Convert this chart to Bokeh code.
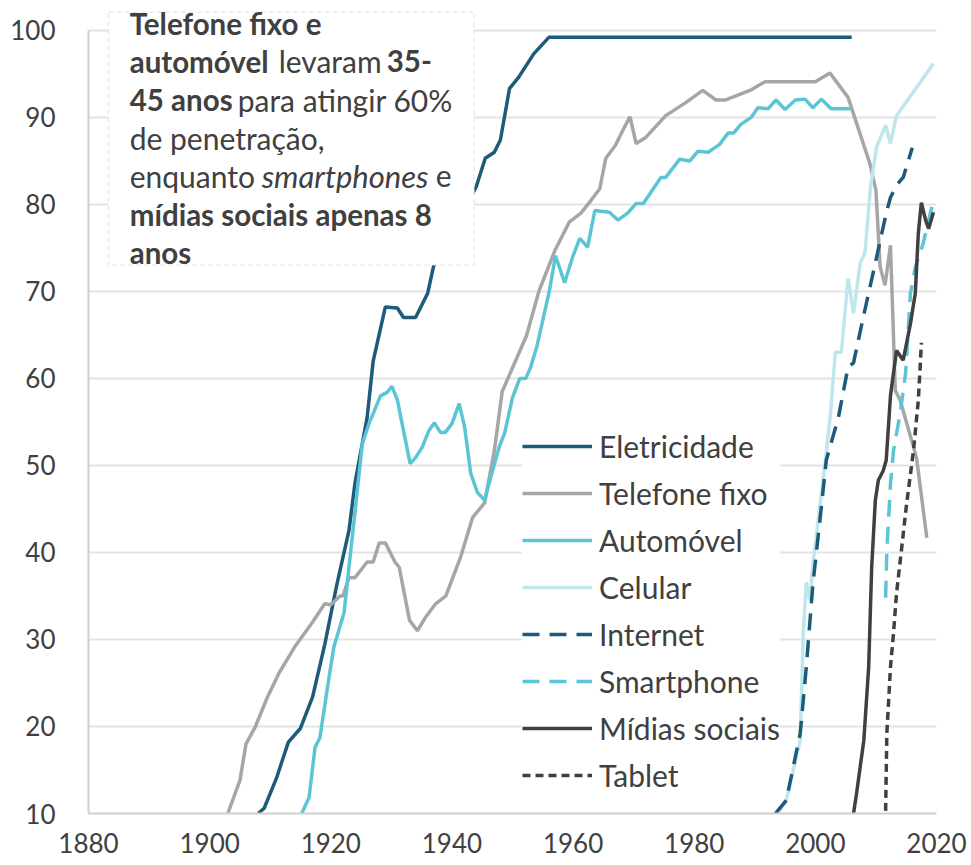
from bokeh.plotting import figure
from bokeh.models import (Range1d, FixedTicker, Legend, LegendItem, BoxAnnotation, Label)
from bokeh.embed import file_html
from bokeh.resources import INLINE

# ---------------- data ----------------
x_ticks = [1880, 1900, 1920, 1940, 1960, 1980, 2000, 2020]
y_ticks = [10, 20, 30, 40, 50, 60, 70, 80, 90, 100]

elec_years = [1908, 1909, 1911, 1913, 1915, 1917, 1919, 1921, 1923, 1924, 1926, 1927, 1929,
              1931, 1932, 1934, 1936, 1937, 1940, 1944, 1945.5, 1947, 1948, 1949.5, 1951,
              1953.5, 1956, 2006]
elec_vals = [10, 10.6, 14, 18.2, 19.8, 23.4, 29.4, 36.3, 42.5, 48, 55.5, 62, 68.2,
             68.1, 67, 67, 69.8, 73, 77, 82, 85.3, 86, 87.4, 93.3, 94.6,
             97.3, 99.2, 99.2]

tel_years = [1903, 1905, 1906, 1907.5, 1909.5, 1911.5, 1914, 1917, 1919, 1920, 1921.5, 1922,
             1923, 1924, 1926, 1927, 1928, 1929, 1930.6, 1931.3, 1933, 1934.3, 1935.6,
             1937.3, 1939, 1941.4, 1943.4, 1945.4, 1947, 1948.3, 1950.5, 1952.3, 1954.4,
             1957, 1959.4, 1961.3, 1963, 1964.4, 1965.4, 1967, 1968.2, 1969.4, 1970.4, 1972,
             1975.3, 1978.6, 1981.4, 1983.6, 1985.2, 1989.2, 1991.7, 2000, 2002.4, 2005.4,
             2009, 2010, 2010.7, 2011.5, 2012.4, 2013.2, 2014, 2016.7, 2018.4]
tel_vals = [10, 13.8, 18, 19.9, 23.3, 26.2, 29.1, 32, 34.1, 34, 35, 35,
            37.1, 37.1, 38.9, 38.9, 41.1, 41.1, 38.9, 38.3, 32.2, 31, 32.5,
            34.1, 35, 39.4, 44, 45.7, 51.7, 58.5, 62, 64.9, 70.1,
            74.7, 78, 79, 80.5, 81.8, 85.3, 86.8, 88.5, 90.1, 87, 87.7,
            90.2, 91.7, 93.1, 92, 92, 93.1, 94.1, 94.1, 95.1, 92.3,
            84.7, 81.6, 72.8, 70.7, 75.3, 58.6, 57.5, 50.9, 41.7]

auto_years = [1915.2, 1916.4, 1917.4, 1918.2, 1919.7, 1920.5, 1922.2, 1923, 1923.9, 1925.2,
              1926.3, 1927.2, 1928.2, 1929.3, 1930.1, 1931, 1933.1, 1934, 1935.1, 1936.2,
              1937.1, 1938.1, 1938.9, 1940, 1941.2, 1942.1, 1943.1, 1944.2, 1945.4, 1946.4,
              1947.8, 1948.7, 1950, 1951.2, 1952.2, 1953, 1954, 1956.1, 1957.1, 1958.6,
              1959.9, 1961.1, 1962.4, 1963.6, 1966, 1967.4, 1969, 1970.4, 1971.6, 1974.5,
              1975.3, 1977.6, 1979.3, 1980.6, 1982.3, 1984.2, 1985.6, 1986.5, 1987.7, 1989.4,
              1990.5, 1992.2, 1993.5, 1995, 1996.7, 1998.3, 1999.6, 2001, 2002.6, 2005.8]
auto_vals = [10, 11.8, 17.6, 18.7, 25.6, 29.1, 33.1, 38.3, 44, 52.5,
             54.8, 56.3, 58, 58.4, 59.1, 57.5, 50.2, 50.9, 52.1, 54,
             54.9, 53.8, 53.8, 54.8, 57.1, 54.4, 49.1, 46.9, 46, 48.6,
             52.1, 53.7, 57.8, 60, 60, 61.3, 63.6, 70.1, 74.1, 71,
             73.9, 76.1, 75.1, 79.3, 79.1, 78.2, 79, 80.1, 80.1, 83.1,
             83.1, 85.2, 85, 86.1, 86, 86.9, 88.2, 88.2, 89.2, 90,
             91.1, 91, 92, 90.9, 92, 92.1, 91.1, 92.1, 91, 91]

cel_years = [1993.8, 1995.2, 1997.5, 1998, 1998.5, 1999.1, 1999.6, 2001.8, 2002.5, 2003.3,
             2004.3, 2005.4, 2006.3, 2007.4, 2008.2, 2009.1, 2010.1, 2011.6, 2012.4, 2013.4,
             2019.5]
cel_vals = [10, 11.5, 18.4, 30.7, 36.6, 34.5, 38.7, 51.4, 56, 63,
            63, 71.5, 67.5, 73.2, 74.5, 82, 86.6, 89.1, 87, 90.2,
            96.2]

net_years = [1993.4, 1995.2, 1997.5, 1998.5, 1999.6, 2000.8, 2001.8, 2003.8, 2005.4, 2006.3,
             2007.9, 2010.1, 2011.7, 2012.4, 2013.4, 2014.5, 2016]
net_vals = [10, 11.5, 19.2, 26.8, 36.4, 44, 50.6, 55.5, 61.3, 61.8,
            67, 73.9, 79, 80.8, 82.2, 83.1, 86.5]

smart_years = [2011.6, 2011.8, 2012.4, 2012.9, 2014, 2014.9, 2015.7, 2016.5, 2017.8, 2018.7, 2019.5]
smart_vals = [34.8, 40.2, 47.9, 51.7, 56, 60.6, 69.8, 72.8, 75.5, 78.2, 80.5]

social_years = [2006.3, 2006.8, 2008, 2008.8, 2009.3, 2009.9, 2010.4, 2011.2, 2011.7, 2012.4,
                2013.4, 2014.5, 2015.7, 2016.5, 2017, 2017.5, 2018.2, 2018.7, 2019.5]
social_vals = [10, 12.3, 18.4, 26.8, 38.3, 46, 48.3, 49.4, 50.6, 58,
               63.2, 62.1, 66.3, 69.8, 76.7, 80.2, 78.2, 77.2, 79.1]

tablet_years = [2011.6, 2011.8, 2012.4, 2012.9, 2013.4, 2014.2, 2015, 2016.2, 2017, 2017.3, 2017.5]
tablet_vals = [10.3, 19.2, 26.8, 30.7, 35.3, 40.2, 45.2, 51.7, 57.5, 61.3, 64.1]

series_names = ["Eletricidade", "Telefone fixo", "Automóvel", "Celular",
                "Internet", "Smartphone", "Mídias sociais", "Tablet"]

# ---------------- styling ----------------
FONT = "Lato"
TXT = "#404040"
C_DARK = "#1c5b79"
C_GRAY = "#a6a6a6"
C_TEAL = "#5bc5d6"
C_LIGHT = "#bfe6ec"
C_BLACK = "#404040"

# y range extends a little above 100 so the note box (which sits above the
# 100 gridline) stays inside the frame and is not clipped
p = figure(frame_width=848, frame_height=804, output_backend="svg", toolbar_location=None,
           x_range=Range1d(1880, 2020), y_range=Range1d(10, 102.4),
           min_border_left=88, min_border_right=32, min_border_top=9, min_border_bottom=44)
p.outline_line_color = None
p.background_fill_color = "white"

for ax in (p.xaxis[0], p.yaxis[0]):
    ax.major_tick_line_color = None
    ax.minor_tick_line_color = None
    ax.axis_line_color = "#cfcfcf"
    ax.axis_line_width = 2
    ax.major_label_text_font = FONT
    ax.major_label_text_font_size = "26px"
    ax.major_label_text_color = TXT
p.xaxis[0].ticker = FixedTicker(ticks=x_ticks)
p.yaxis[0].ticker = FixedTicker(ticks=y_ticks)
p.yaxis[0].bounds = (10, 100)
p.xaxis[0].major_label_standoff = 13
p.yaxis[0].major_label_standoff = 27
p.xgrid.grid_line_color = None
p.ygrid.grid_line_color = "#e3e3e3"
p.ygrid.grid_line_width = 2
p.ygrid.ticker = FixedTicker(ticks=y_ticks)

LW = 3.5
r_elec = p.line(elec_years, elec_vals, line_color=C_DARK, line_width=LW)
r_tel = p.line(tel_years, tel_vals, line_color=C_GRAY, line_width=LW)
r_auto = p.line(auto_years, auto_vals, line_color=C_TEAL, line_width=LW)
r_cel = p.line(cel_years, cel_vals, line_color=C_LIGHT, line_width=LW)
r_net = p.line(net_years, net_vals, line_color=C_DARK, line_width=LW, line_dash="17 10")
r_smart = p.line(smart_years, smart_vals, line_color=C_TEAL, line_width=LW, line_dash="17 10")
r_social = p.line(social_years, social_vals, line_color=C_BLACK, line_width=LW)
r_tablet = p.line(tablet_years, tablet_vals, line_color=C_BLACK, line_width=LW, line_dash="8 5")

renderers = [r_elec, r_tel, r_auto, r_cel, r_net, r_smart, r_social, r_tablet]
legend = Legend(items=[LegendItem(label=n, renderers=[r]) for n, r in zip(series_names, renderers)],
                location=(434, 20), orientation="vertical",
                label_text_font=FONT, label_text_font_size="30px", label_text_color=TXT,
                glyph_width=70, glyph_height=36, label_height=36, label_standoff=7,
                spacing=11, padding=12, margin=0,
                background_fill_color="white", background_fill_alpha=1.0,
                border_line_color=None)
p.add_layout(legend, "center")

# ---------------- annotation box ----------------
box = BoxAnnotation(left=1883.3, right=1943.7, top=102.07, bottom=73.0,
                    fill_color="white", fill_alpha=1.0,
                    line_color="#bdbdbd", line_width=1.5, line_dash="5 3")
p.add_layout(box)

X0 = 1886.8
SIZES = {"bold": "29.5px", "normal": "30px", "italic": "31px"}
rows = [  # (y baseline in data units, [(x pixel offset, text, style)])
    (100.81, [(0, "Telefone fixo e", "bold")]),
    (96.44, [(0, "automóvel", "bold"), (149, "levaram", "normal"), (257, "35-", "bold")]),
    (92.01, [(0, "45 anos", "bold"), (108, "para atingir 60%", "normal")]),
    (87.59, [(0, "de penetração,", "normal")]),
    (83.22, [(0, "enquanto", "normal"), (132, "smartphones", "italic"), (306, "e", "normal")]),
    (78.85, [(0, "mídias sociais apenas 8", "bold")]),
    (74.48, [(0, "anos", "bold")]),
]
for yb, pieces in rows:
    for dx, t, style in pieces:
        p.add_layout(Label(x=X0, y=yb, x_offset=dx, text=t, text_font=FONT,
                           text_font_size=SIZES[style], text_font_style=style,
                           text_color=TXT, text_baseline="alphabetic", text_align="left"))

open("out.html", "w").write(file_html(p, INLINE))
